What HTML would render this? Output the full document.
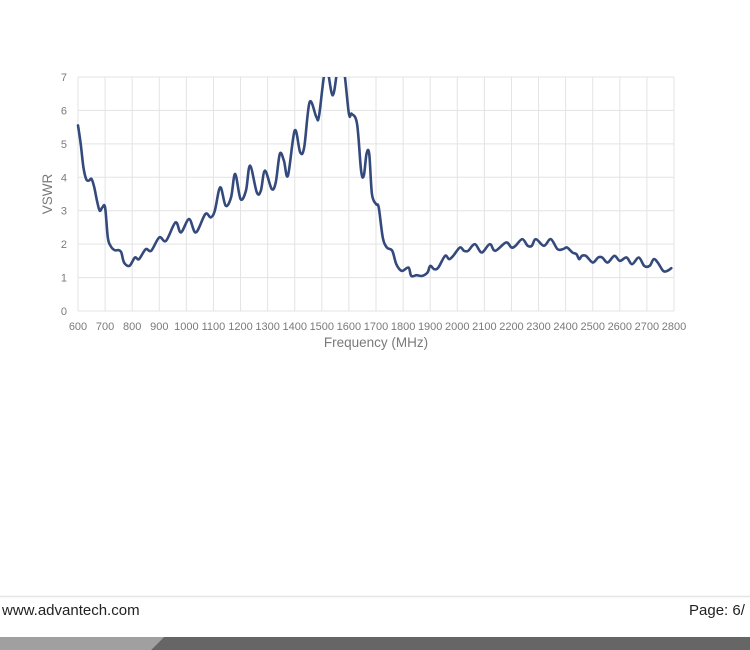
<!DOCTYPE html>
<html><head><meta charset="utf-8">
<style>
body{margin:0;width:750px;height:650px;background:#fff;overflow:hidden;position:relative;font-family:"Liberation Sans",sans-serif}
svg{position:absolute;left:0;top:0}
</style></head>
<body>
<svg id="s" width="750" height="650" xmlns="http://www.w3.org/2000/svg">
<defs><clipPath id="c"><rect x="70" y="77" width="620" height="240"/></clipPath></defs>
<g id="grid" stroke="#e3e3e3" stroke-width="1"></g>
<g id="lab" font-family="Liberation Sans, sans-serif" font-size="11" fill="#7a7a7a"></g>
<text x="376" y="347" font-size="13.5" fill="#7a7a7a" text-anchor="middle" font-family="Liberation Sans, sans-serif">Frequency (MHz)</text>
<text transform="translate(52,194) rotate(-90)" font-size="13.5" fill="#7a7a7a" text-anchor="middle" font-family="Liberation Sans, sans-serif">VSWR</text>
<path id="p" clip-path="url(#c)" fill="none" stroke="#34497c" stroke-width="2.6" stroke-linejoin="round" stroke-linecap="round"/>
<line x1="0" y1="596.5" x2="750" y2="596.5" stroke="#e6e6e6" stroke-width="1.5"/>
<text x="2" y="615" font-size="15" fill="#222">www.advantech.com</text>
<text x="689" y="615" font-size="15" fill="#222">Page: 6/</text>
<polygon points="0,637 164,637 151,650 0,650" fill="#a0a0a0"/>
<polygon points="164,637 750,637 750,650 151,650" fill="#666"/>
</svg>
<script>
var X=f=>78+(f-600)*596/2200, Y=v=>311-v*234/7;
var g=document.getElementById('grid'),l=document.getElementById('lab'),ns='http://www.w3.org/2000/svg';
function el(p,t,a,txt){var e=document.createElementNS(ns,t);for(var k in a)e.setAttribute(k,a[k]);if(txt!=null)e.textContent=txt;p.appendChild(e);}
for(var f=600;f<=2800;f+=100){el(g,'line',{x1:X(f),x2:X(f),y1:77,y2:311});el(l,'text',{x:X(f),y:330,'text-anchor':'middle'},f);}
for(var v=0;v<=7;v++){el(g,'line',{x1:78,x2:674,y1:Y(v),y2:Y(v)});el(l,'text',{x:67,y:Y(v)+4,'text-anchor':'end'},v);}
var d=[[600,5.55],[610,5.0],[620,4.3],[630,3.95],[640,3.9],[650,3.95],[660,3.7],[670,3.3],[680,3.0],[690,3.1],[700,3.1],[710,2.2],[720,1.95],[735,1.82],[750,1.82],[760,1.75],[770,1.45],[790,1.35],[810,1.6],[825,1.55],[850,1.85],[870,1.8],[900,2.2],[925,2.1],[960,2.65],[980,2.35],[1010,2.75],[1035,2.35],[1070,2.9],[1090,2.8],[1105,3.0],[1125,3.7],[1145,3.15],[1165,3.4],[1180,4.1],[1200,3.35],[1220,3.6],[1235,4.35],[1260,3.55],[1275,3.6],[1290,4.2],[1315,3.65],[1330,3.85],[1345,4.7],[1360,4.5],[1375,4.05],[1400,5.4],[1420,4.75],[1435,4.9],[1455,6.25],[1480,5.8],[1490,5.85],[1515,7.3],[1540,6.45],[1560,7.3],[1580,7.3],[1600,5.9],[1610,5.9],[1630,5.6],[1645,4.2],[1655,4.05],[1665,4.7],[1675,4.7],[1685,3.5],[1700,3.2],[1710,3.1],[1725,2.2],[1740,1.9],[1760,1.8],[1775,1.4],[1795,1.2],[1820,1.3],[1830,1.05],[1850,1.07],[1870,1.05],[1890,1.15],[1900,1.35],[1915,1.25],[1930,1.3],[1955,1.65],[1970,1.55],[1985,1.65],[2010,1.9],[2025,1.8],[2040,1.8],[2065,2.0],[2090,1.75],[2120,2.0],[2140,1.8],[2180,2.05],[2200,1.9],[2215,1.95],[2240,2.15],[2260,1.95],[2275,1.95],[2290,2.15],[2320,1.95],[2345,2.15],[2370,1.85],[2390,1.85],[2405,1.9],[2425,1.75],[2440,1.7],[2450,1.55],[2460,1.65],[2475,1.65],[2500,1.45],[2520,1.6],[2535,1.6],[2555,1.45],[2580,1.65],[2600,1.5],[2625,1.6],[2645,1.4],[2670,1.6],[2690,1.35],[2710,1.35],[2725,1.55],[2740,1.45],[2760,1.2],[2775,1.2],[2790,1.28]];
var P=d.map(a=>[X(a[0]),Y(a[1])]);
var s='M'+P[0][0]+','+P[0][1];
for(var i=0;i<P.length-1;i++){var p0=P[Math.max(0,i-1)],p1=P[i],p2=P[i+1],p3=P[Math.min(P.length-1,i+2)];
s+=' C'+(p1[0]+(p2[0]-p0[0])/6)+','+(p1[1]+(p2[1]-p0[1])/6)+' '+(p2[0]-(p3[0]-p1[0])/6)+','+(p2[1]-(p3[1]-p1[1])/6)+' '+p2[0]+','+p2[1];}
document.getElementById('p').setAttribute('d',s);
</script>
</body></html>
